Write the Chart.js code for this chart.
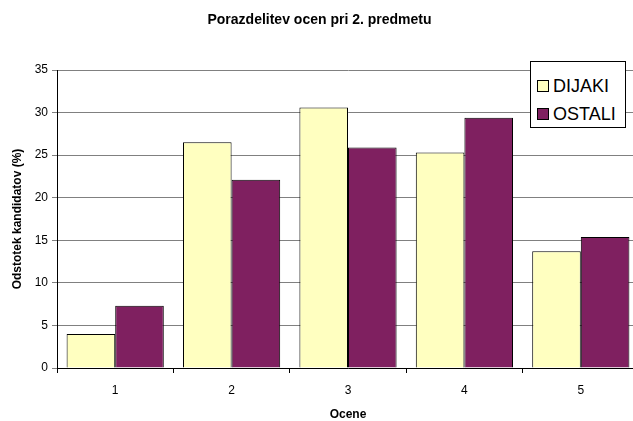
<!DOCTYPE html>
<html>
<head>
<meta charset="utf-8">
<script src="https://cdn.jsdelivr.net/npm/chart.js@4/dist/chart.umd.min.js"></script>
<style>
  body { margin: 0; background: #fff; }
  #wrap { position: relative; width: 633px; height: 421px; overflow: hidden; }
  #holder { position: absolute; left: 0; top: 0; width: 640px; height: 421px; }
  #legend {
    position: absolute; left: 530px; top: 61px; width: 94px; height: 65px;
    background: #fff; border: 1px solid #000;
    font-family: "Liberation Sans", Arial, sans-serif; font-size: 18px; color: #000;
  }
  .item { position: absolute; left: 6px; height: 20px; line-height: 20px; white-space: nowrap; }
  .sw { display: inline-block; width: 10px; height: 10px; border: 1px solid #000; margin-right: 4px; vertical-align: 0px; }
</style>
</head>
<body>
<div id="wrap">
  <div id="holder"><canvas id="chart" width="640" height="421"></canvas></div>
  <div id="legend">
    <div class="item" style="top:14px"><span class="sw" style="background:#ffffc0"></span>DIJAKI</div>
    <div class="item" style="top:42px"><span class="sw" style="background:#7f2060"></span>OSTALI</div>
  </div>
</div>
<script>
const labels = ['1', '2', '3', '4', '5'];
const dijaki = [4.0, 26.5, 30.6, 25.3, 13.7];
const ostali = [7.3, 22.1, 25.9, 29.4, 15.4];

const font = "'Liberation Sans', Arial, sans-serif";

new Chart(document.getElementById('chart'), {
    type: 'bar',
    data: {
        labels: labels,
        datasets: [{
            label: 'DIJAKI',
            data: dijaki,
            backgroundColor: '#ffffc0',
            borderColor: '#000',
            borderWidth: 1
        },
        {
            label: 'OSTALI',
            data: ostali,
            backgroundColor: '#7f2060',
            borderColor: '#000',
            borderWidth: 1
        }]
    },
    options: {
        responsive: false,
        animation: false,
        layout: { padding: { left: 0, right: 1, top: 0, bottom: 0 } },
        categoryPercentage: 0.835,
        barPercentage: 1.0,
        plugins: {
            legend: { display: false },
            tooltip: { enabled: false },
            title: {
                display: true,
                text: 'Porazdelitev ocen pri 2. predmetu',
                color: '#000',
                font: { family: font, size: 14, weight: 'bold' },
                padding: { top: 11.6, bottom: 41.6 }
            }
        },
        scales: {
            x: {
                grid: { display: true, drawOnChartArea: false, tickLength: 5, color: '#000' },
                border: { color: '#000' },
                ticks: { color: '#000', font: { family: font, size: 12 }, padding: 10 },
                title: {
                    display: true, text: 'Ocene', color: '#000',
                    font: { family: font, size: 12, weight: 'bold', lineHeight: 1.0 },
                    padding: { top: 0, bottom: 0 }
                },
                afterFit: (s) => { s.height = 53; }
            },
            y: {
                min: 0, max: 35,
                ticks: { stepSize: 5, color: '#000', font: { family: font, size: 12 }, padding: 4 },
                grid: { color: '#808080', tickLength: 5 },
                border: { color: '#000' },
                title: {
                    display: true, text: 'Odstotek kandidatov (%)', color: '#000',
                    font: { family: font, size: 12, weight: 'bold' },
                    padding: { top: 10, bottom: 0 }
                },
                afterFit: (s) => { s.width = 57; }
            }
        }
    }
});
</script>
</body>
</html>
